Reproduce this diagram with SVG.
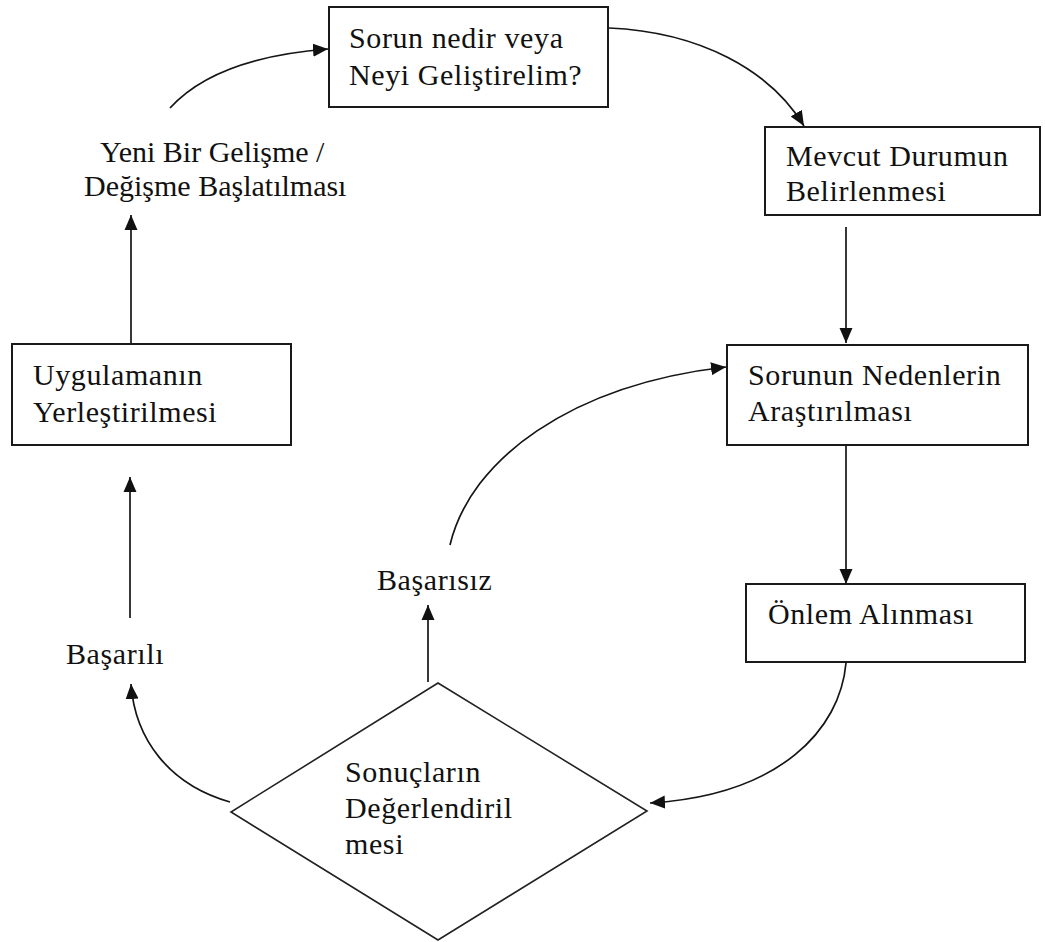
<svg xmlns="http://www.w3.org/2000/svg" width="1045" height="942" viewBox="0 0 1045 942">
  <style>
    .box { fill: #ffffff; stroke: #1a1a1a; stroke-width: 2; }
    .dia { fill: #ffffff; stroke: #222222; stroke-width: 1.6; }
    .lbl { font-family: "Liberation Serif", "Times New Roman", serif; font-size: 30px; letter-spacing: 0.6px; fill: #111111; }
    .tight { letter-spacing: 0px; }
    .edge { fill: none; stroke: #151515; stroke-width: 1.7; }
  </style>
  <defs>
    <marker id="arrow" markerUnits="userSpaceOnUse" markerWidth="16" markerHeight="14" refX="15" refY="7" orient="auto">
      <path d="M0,0.5 L15,7 L0,13.5 z" fill="#111111"/>
    </marker>
  </defs>
  <rect width="1045" height="942" fill="#ffffff"/>

  <!-- connectors -->
  <g id="connectors">
    <path class="edge" marker-end="url(#arrow)" d="M170,108 C 200,75 250,55 328,49"/>
    <path class="edge" marker-end="url(#arrow)" d="M609,28 C 700,32 770,70 804,126"/>
    <path class="edge" marker-end="url(#arrow)" d="M846,227 L846,343"/>
    <path class="edge" marker-end="url(#arrow)" d="M846,445 L846,584"/>
    <path class="edge" marker-end="url(#arrow)" d="M846,663 C 840,730 780,795 650,803"/>
    <path class="edge" marker-end="url(#arrow)" d="M428,682 L428,605"/>
    <path class="edge" marker-end="url(#arrow)" d="M450,545 C 470,460 570,385 726,367"/>
    <path class="edge" marker-end="url(#arrow)" d="M230,802 C 170,785 135,740 131,684"/>
    <path class="edge" marker-end="url(#arrow)" d="M130,618 L130,477"/>
    <path class="edge" marker-end="url(#arrow)" d="M131,344 L131,215"/>
  </g>

  <!-- problem definition -->
  <g id="node-sorun">
    <rect class="box" x="329" y="7" width="279" height="100"/>
    <text class="lbl" x="349" y="48">Sorun nedir veya</text>
    <text class="lbl" x="349" y="85">Neyi Geliştirelim?</text>
  </g>

  <g id="node-mevcut">
    <rect class="box" x="765" y="127" width="275" height="88"/>
    <text class="lbl" x="786" y="166">Mevcut Durumun</text>
    <text class="lbl" x="786" y="201">Belirlenmesi</text>
  </g>

  <g id="node-nedenler">
    <rect class="box" x="727" y="345" width="301" height="100"/>
    <text class="lbl" x="748" y="385">Sorunun Nedenlerin</text>
    <text class="lbl" x="748" y="421">Araştırılması</text>
  </g>

  <g id="node-onlem">
    <rect class="box" x="746" y="584" width="279" height="78"/>
    <text class="lbl" x="768" y="624">Önlem Alınması</text>
  </g>

  <g id="node-degerlendirme">
    <polygon class="dia" points="438,683 647,811 438,940 231,812"/>
    <text class="lbl" x="345" y="782">Sonuçların</text>
    <text class="lbl" x="345" y="818">Değerlendiril</text>
    <text class="lbl" x="345" y="854">mesi</text>
  </g>

  <g id="node-uygulama">
    <rect class="box" x="12" y="344" width="279" height="101"/>
    <text class="lbl" x="33" y="385">Uygulamanın</text>
    <text class="lbl" x="33" y="422">Yerleştirilmesi</text>
  </g>

  <g id="label-yeni">
    <text class="lbl tight" x="100" y="162">Yeni Bir Gelişme /</text>
    <text class="lbl tight" x="84" y="196">Değişme Başlatılması</text>
  </g>

  <g id="label-basarisiz">
    <text class="lbl" x="377" y="590">Başarısız</text>
  </g>

  <g id="label-basarili">
    <text class="lbl" x="66" y="664">Başarılı</text>
  </g>
</svg>
